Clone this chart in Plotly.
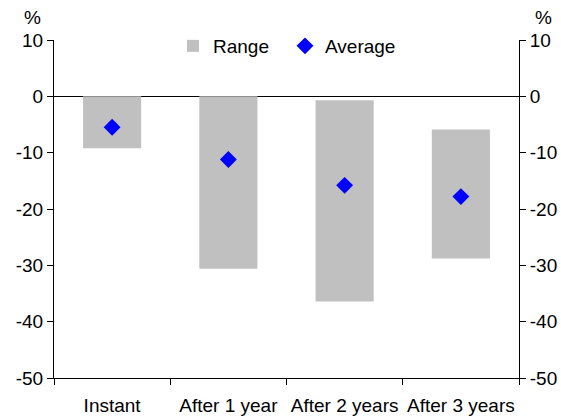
import plotly.graph_objects as go

categories = ["Instant", "After 1 year", "After 2 years", "After 3 years"]
range_high = [0.0, 0.0, -0.7, -5.9]
range_low = [-9.2, -30.6, -36.4, -28.8]
average = [-5.5, -11.2, -15.8, -17.8]
y_ticks = [10, 0, -10, -20, -30, -40, -50]

FONT = "Arial, Liberation Sans, sans-serif"
FS = 19

fig = go.Figure()
fig.add_trace(go.Bar(
    x=categories,
    y=[h - l for h, l in zip(range_high, range_low)],
    base=range_low,
    name="Range",
    marker=dict(color="#C0C0C0", line=dict(width=0)),
    width=0.5,
    legend="legend",
    hoverinfo="skip",
))
fig.add_trace(go.Scatter(
    x=categories,
    y=average,
    name="Average",
    mode="markers",
    marker=dict(symbol="diamond", color="#0000FF", size=13, line=dict(width=0)),
    legend="legend2",
))
# invisible trace so the right-hand axis is drawn
fig.add_trace(go.Scatter(
    x=categories,
    y=average,
    yaxis="y2",
    mode="markers",
    marker=dict(opacity=0),
    showlegend=False,
    hoverinfo="skip",
))

W, H = 561, 417
L, R, T, B = 54, 42, 40, 39
pw, ph = W - L - R, H - T - B

yaxis_common = dict(
    range=[-50, 10],
    tickvals=y_ticks,
    ticktext=[str(v) for v in y_ticks],
    ticks="outside",
    ticklen=6,
    tickcolor="black",
    showline=True,
    linecolor="black",
    linewidth=1,
    showgrid=False,
    tickfont=dict(family=FONT, size=FS, color="black"),
)

legend_common = dict(
    orientation="h",
    yanchor="middle",
    y=1 - 6 / ph,
    xanchor="left",
    bgcolor="rgba(0,0,0,0)",
    borderwidth=0,
    font=dict(family=FONT, size=FS, color="black"),
    itemwidth=30,
)

fig.update_layout(
    width=W, height=H,
    margin=dict(l=L, r=R, t=T, b=B, autoexpand=False),
    paper_bgcolor="white",
    plot_bgcolor="white",
    font=dict(family=FONT, size=FS, color="black"),
    showlegend=True,
    legend=dict(**legend_common, x=(173 - L) / pw),
    legend2=dict(**legend_common, x=(285 - L) / pw),
    xaxis=dict(
        type="category",
        showline=True,
        linecolor="black",
        linewidth=1,
        ticks="outside",
        tickson="boundaries",
        ticklen=6,
        tickcolor="black",
        showgrid=False,
        tickangle=0,
        ticklabelstandoff=10,
        tickfont=dict(family=FONT, size=FS, color="black"),
    ),
    yaxis=dict(
        **yaxis_common,
        zeroline=True,
        zerolinecolor="black",
        zerolinewidth=1.2,
    ),
    yaxis2=dict(
        **yaxis_common,
        overlaying="y",
        side="right",
        zeroline=False,
    ),
    annotations=[
        dict(text="%", xref="paper", yref="paper",
             x=(32 - L) / pw, y=1 + (T - 18) / ph,
             xanchor="center", yanchor="middle", showarrow=False,
             font=dict(family=FONT, size=FS, color="black")),
        dict(text="%", xref="paper", yref="paper",
             x=(543 - L) / pw, y=1 + (T - 18) / ph,
             xanchor="center", yanchor="middle", showarrow=False,
             font=dict(family=FONT, size=FS, color="black")),
    ],
)

fig.write_html(
    "out.html",
    config={"displayModeBar": False},
    post_script="document.body.style.margin='0';document.body.style.padding='0';",
)
